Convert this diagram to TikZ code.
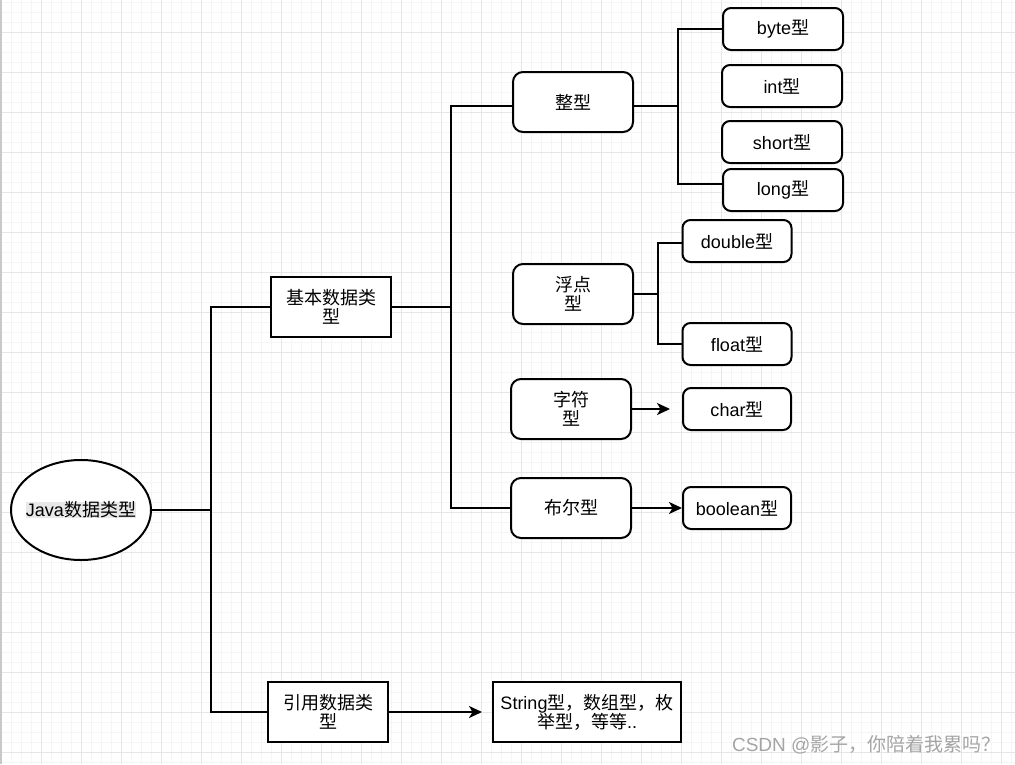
\documentclass[tikz,border=0pt]{standalone}
\usepackage{fontspec}
\setmainfont{Liberation Sans}
\newfontfamily\cjk{Noto Sans CJK SC}
\usepackage{tikz}
\usetikzlibrary{arrows.meta,shapes.geometric}
\definecolor{GridMajor}{RGB}{230,230,230}
\definecolor{GridMinor}{RGB}{245,245,245}
\definecolor{EdgeGray}{RGB}{200,200,200}
\definecolor{TextBg}{RGB}{232,232,232}
\definecolor{MarkGray}{RGB}{165,165,165}

\begin{document}
\begin{tikzpicture}[
    x=1pt, y=-1pt,
    >={Stealth[length=13pt,width=12pt,inset=3.5pt]},
    every node/.style={font=\fontsize{18}{21}\selectfont, align=center},
    sqbox/.style={rectangle, draw=black, fill=white, line width=2pt,
                  minimum width=#1, minimum height=60pt, inner sep=2pt},
    sqbox/.default=120pt,
    rbox/.style={sqbox=#1, rounded corners=10pt},
    rbox/.default=120pt,
    leaf/.style={rectangle, rounded corners=8pt, draw=black, fill=white,
                 line width=2pt, minimum width=#1, minimum height=42pt, inner sep=2pt},
    leaf/.default=120pt,
    link/.style={line width=2pt, draw=black},
    arr/.style={->, line width=2pt, draw=black},
]

\useasboundingbox (0,0) rectangle (1015,764);

% ── Background grid ──
\fill[white] (0,0) rectangle (1015,764);
\foreach \gx in {1,11,...,1011} \draw[GridMinor, line width=1pt] (\gx,0) -- (\gx,764);
\foreach \gy in {2,12,...,762} \draw[GridMinor, line width=1pt] (0,\gy) -- (1015,\gy);
\foreach \gx in {1,41,...,1001} \draw[GridMajor, line width=1pt] (\gx,0) -- (\gx,764);
\foreach \gy in {32,72,...,752} \draw[GridMajor, line width=1pt] (0,\gy) -- (1015,\gy);
\draw[EdgeGray, line width=1.5pt] (1,0) -- (1,764);

% ── Root ──
\node[ellipse, draw=black, fill=white, line width=2pt,
      minimum width=140pt, minimum height=100pt, inner sep=0pt]
    (java) at (81,510)
    {\makebox[0pt]{\setlength{\fboxsep}{0pt}\colorbox{TextBg}{Java{\cjk 数据类型}}}};

% ── Level 1 ──
\node[sqbox] (basic) at (331,307) {{\cjk 基本数据类}\\[-2pt]{\cjk 型}};
\node[sqbox] (ref) at (328,712) {{\cjk 引用数据类}\\[-2pt]{\cjk 型}};
\node[sqbox=188pt] (refall) at (587,712)
    {String{\cjk 型，数组型，枚}\\[-2pt]{\cjk 举型，等等}..};

% ── Level 2 ──
\node[rbox] (zheng) at (573,102) {\cjk 整型};
\node[rbox] (fudian) at (573,294) {{\cjk 浮点}\\[-2pt]{\cjk 型}};
\node[rbox] (zifu) at (571,409) {{\cjk 字符}\\[-2pt]{\cjk 型}};
\node[rbox] (buer) at (571,508) {\cjk 布尔型};

% ── Leaves ──
\node[leaf] (byte) at (783,29) {byte{\cjk 型}};
\node[leaf] (int) at (782,86) {int{\cjk 型}};
\node[leaf] (short) at (782,142) {short{\cjk 型}};
\node[leaf] (long) at (783,190) {long{\cjk 型}};
\node[leaf=109pt] (double) at (737,241) {double{\cjk 型}};
\node[leaf=109pt] (float) at (737,344) {float{\cjk 型}};
\node[leaf=108pt] (char) at (737,409) {char{\cjk 型}};
\node[leaf=108pt] (boolean) at (737,508) {boolean{\cjk 型}};

% ── Junction points ──
\coordinate (jroot) at (211,510);
\coordinate (jbasic) at (451,307);
\coordinate (jzheng) at (678,106);
\coordinate (jfu) at (658,294);
\coordinate (charend) at (670,409);
\coordinate (refend) at (482,712);

% ── Connectors ──
\draw[link] (java.east) -- (jroot);
\draw[link] (basic.west) -| (jroot) |- (ref.west);
\draw[link] (basic.east) -- (jbasic);
\draw[link] ([yshift=-4pt]zheng.west) -| (jbasic) |- (buer.west);
\draw[link] ([yshift=-4pt]zheng.east) -- (jzheng);
\draw[link] (byte.west) -| (jzheng) |- ([yshift=6pt]long.west);
\draw[link] (fudian.east) -- (jfu);
\draw[link] ([yshift=-2pt]double.west) -| (jfu) |- (float.west);
\draw[arr] (zifu.east) -- (charend);
\draw[arr] (buer.east) -- (boolean.west);
\draw[arr] (ref.east) -- (refend);

% ── Watermark ──
\node[text=MarkGray, anchor=east, font=\fontsize{19}{22}\selectfont]
    (mark) at (1004,745) {CSDN @{\cjk 影子，你陪着我累吗？}};

\end{tikzpicture}
\end{document}
